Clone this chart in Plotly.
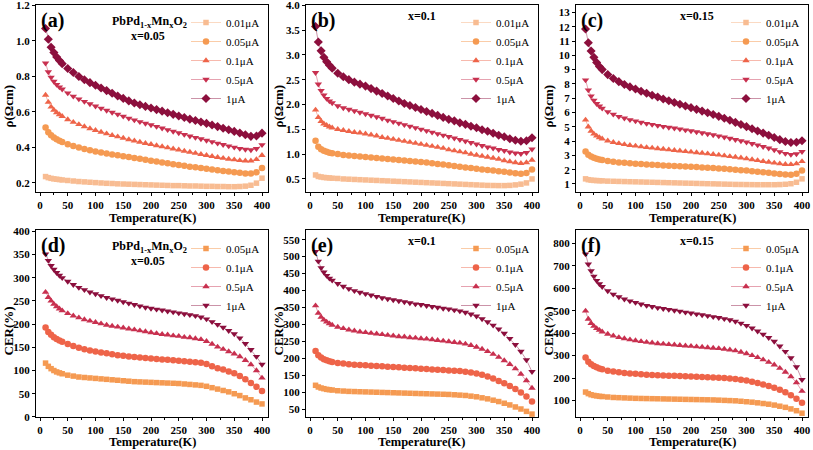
import plotly.graph_objects as go

# ---------------- data ----------------
T = [10, 15, 20, 25, 30, 35, 40, 50, 60, 70, 80, 90, 100, 110, 120, 130, 140, 150, 160, 170,
     180, 190, 200, 210, 220, 230, 240, 250, 260, 270, 280, 290, 300, 310, 320, 330, 340, 350,
     360, 370, 380, 390, 400]

# (a) x=0.05 resistivity
a_001 = [0.235, 0.229, 0.225, 0.222, 0.22, 0.218, 0.216, 0.213, 0.21, 0.207, 0.205, 0.203, 0.201, 0.199, 0.197, 0.196, 0.194, 0.193, 0.192, 0.191,
         0.19, 0.189, 0.188, 0.187, 0.186, 0.185, 0.184, 0.184, 0.183, 0.182, 0.182, 0.181, 0.18, 0.18, 0.179, 0.179, 0.178, 0.178,
         0.179, 0.181, 0.186, 0.198, 0.226]
a_005 = [0.512, 0.485, 0.468, 0.455, 0.445, 0.437, 0.43, 0.418, 0.408, 0.399, 0.391, 0.384, 0.377, 0.371, 0.365, 0.36, 0.355, 0.35, 0.345, 0.34,
         0.335, 0.33, 0.325, 0.32, 0.315, 0.31, 0.305, 0.3, 0.296, 0.291, 0.287, 0.283, 0.279, 0.275, 0.271, 0.267, 0.263, 0.259,
         0.256, 0.253, 0.252, 0.259, 0.284]
a_01 = [0.695, 0.655, 0.628, 0.61, 0.596, 0.585, 0.575, 0.557, 0.542, 0.529, 0.517, 0.506, 0.496, 0.486, 0.477, 0.468, 0.46, 0.452, 0.444, 0.437,
        0.43, 0.423, 0.417, 0.41, 0.404, 0.398, 0.392, 0.386, 0.379, 0.373, 0.367, 0.361, 0.355, 0.349, 0.344, 0.339, 0.334, 0.33,
        0.326, 0.324, 0.324, 0.332, 0.355]
a_05 = [0.875, 0.825, 0.795, 0.772, 0.754, 0.74, 0.728, 0.706, 0.688, 0.672, 0.658, 0.645, 0.632, 0.62, 0.608, 0.597, 0.586, 0.575, 0.564, 0.554,
        0.544, 0.535, 0.526, 0.517, 0.508, 0.499, 0.49, 0.481, 0.472, 0.463, 0.455, 0.447, 0.439, 0.431, 0.423, 0.415, 0.407, 0.4,
        0.393, 0.388, 0.385, 0.392, 0.414]
a_1 = [1.07, 1.01, 0.965, 0.935, 0.91, 0.89, 0.872, 0.845, 0.822, 0.8, 0.781, 0.765, 0.75, 0.735, 0.72, 0.705, 0.69, 0.676, 0.662, 0.65,
       0.64, 0.631, 0.622, 0.613, 0.604, 0.595, 0.586, 0.577, 0.568, 0.559, 0.551, 0.543, 0.535, 0.526, 0.517, 0.508, 0.499, 0.49,
       0.481, 0.471, 0.462, 0.464, 0.48]

# (b) x=0.1 resistivity
b_001 = [0.58, 0.55, 0.54, 0.53, 0.525, 0.52, 0.515, 0.51, 0.5, 0.495, 0.49, 0.485, 0.48, 0.475, 0.47, 0.465, 0.46, 0.455, 0.45, 0.445,
         0.44, 0.435, 0.43, 0.425, 0.42, 0.415, 0.41, 0.405, 0.4, 0.395, 0.39, 0.385, 0.38, 0.375, 0.37, 0.368, 0.366, 0.366,
         0.37, 0.38, 0.395, 0.42, 0.5]
b_005 = [1.27, 1.15, 1.1, 1.07, 1.05, 1.03, 1.02, 1.0, 0.98, 0.97, 0.96, 0.95, 0.94, 0.93, 0.92, 0.91, 0.9, 0.89, 0.88, 0.87,
         0.86, 0.85, 0.84, 0.83, 0.815, 0.8, 0.79, 0.775, 0.76, 0.745, 0.73, 0.72, 0.705, 0.69, 0.68, 0.67, 0.655, 0.645,
         0.63, 0.615, 0.605, 0.62, 0.69]
b_01 = [1.89, 1.74, 1.66, 1.61, 1.58, 1.55, 1.53, 1.5, 1.48, 1.46, 1.44, 1.43, 1.41, 1.39, 1.37, 1.34, 1.32, 1.3, 1.28, 1.26,
        1.24, 1.22, 1.2, 1.18, 1.16, 1.14, 1.12, 1.09, 1.07, 1.05, 1.03, 1.0, 0.98, 0.96, 0.94, 0.92, 0.9, 0.87,
        0.85, 0.83, 0.815, 0.83, 0.88]
b_05 = [2.64, 2.41, 2.28, 2.19, 2.12, 2.07, 2.03, 1.97, 1.93, 1.9, 1.87, 1.84, 1.81, 1.78, 1.75, 1.72, 1.68, 1.65, 1.62, 1.59,
        1.56, 1.53, 1.5, 1.47, 1.44, 1.41, 1.38, 1.35, 1.32, 1.29, 1.26, 1.23, 1.2, 1.17, 1.14, 1.12, 1.09, 1.07,
        1.04, 1.02, 1.01, 1.03, 1.1]
b_1 = [3.57, 3.26, 3.08, 2.95, 2.86, 2.79, 2.73, 2.63, 2.56, 2.5, 2.45, 2.41, 2.37, 2.32, 2.27, 2.22, 2.17, 2.12, 2.07, 2.02,
       1.98, 1.94, 1.9, 1.86, 1.82, 1.78, 1.74, 1.7, 1.67, 1.63, 1.6, 1.56, 1.53, 1.49, 1.46, 1.42, 1.38, 1.35,
       1.31, 1.28, 1.26, 1.27, 1.33]

# (c) x=0.15 resistivity
c_001 = [1.36, 1.3, 1.27, 1.25, 1.24, 1.23, 1.22, 1.2, 1.19, 1.18, 1.17, 1.16, 1.15, 1.14, 1.13, 1.12, 1.11, 1.1, 1.09, 1.08,
         1.07, 1.06, 1.05, 1.04, 1.03, 1.02, 1.01, 1.0, 0.99, 0.98, 0.97, 0.965, 0.96, 0.955, 0.95, 0.95, 0.95, 0.95,
         0.96, 0.98, 1.02, 1.12, 1.36]
c_005 = [3.28, 3.05, 2.92, 2.83, 2.76, 2.71, 2.67, 2.6, 2.55, 2.51, 2.48, 2.45, 2.42, 2.39, 2.37, 2.34, 2.32, 2.3, 2.28, 2.26,
         2.24, 2.22, 2.2, 2.18, 2.16, 2.14, 2.12, 2.09, 2.06, 2.03, 2.0, 1.97, 1.94, 1.9, 1.86, 1.82, 1.78, 1.74,
         1.7, 1.66, 1.65, 1.72, 1.95]
c_01 = [5.48, 5.0, 4.7, 4.5, 4.36, 4.25, 4.16, 4.02, 3.92, 3.84, 3.77, 3.71, 3.66, 3.61, 3.56, 3.52, 3.48, 3.44, 3.4, 3.36,
        3.32, 3.28, 3.24, 3.2, 3.16, 3.12, 3.08, 3.03, 2.98, 2.93, 2.88, 2.83, 2.77, 2.71, 2.65, 2.59, 2.53, 2.47,
        2.42, 2.38, 2.37, 2.42, 2.58]
c_05 = [8.27, 7.57, 7.15, 6.85, 6.62, 6.44, 6.29, 6.05, 5.87, 5.72, 5.6, 5.49, 5.4, 5.31, 5.23, 5.16, 5.09, 5.02, 4.96, 4.9,
        4.84, 4.77, 4.71, 4.64, 4.57, 4.5, 4.43, 4.35, 4.27, 4.19, 4.1, 4.01, 3.92, 3.82, 3.72, 3.61, 3.5, 3.38,
        3.25, 3.13, 3.06, 3.1, 3.26]
c_1 = [11.84, 10.88, 10.3, 9.86, 9.5, 9.22, 9.0, 8.65, 8.38, 8.16, 7.96, 7.79, 7.64, 7.49, 7.35, 7.21, 7.08, 6.95, 6.82, 6.7,
       6.58, 6.46, 6.34, 6.22, 6.1, 5.98, 5.86, 5.73, 5.6, 5.46, 5.31, 5.16, 5.01, 4.86, 4.71, 4.56, 4.41, 4.25,
       4.1, 3.97, 3.9, 3.92, 4.02]

# (d) x=0.05 CER
d_005 = [116, 109, 104, 100, 97, 95, 93, 90, 88, 86, 85, 84, 83, 82, 81, 80, 79, 78, 77, 76,
         75.5, 75, 74.5, 74, 73.5, 73, 72.5, 72, 71, 70, 69, 68, 66, 63, 60, 57, 54, 50,
         46, 41, 37, 32, 28]
d_01 = [193, 183, 177, 172, 168, 165, 162, 157, 153, 149, 146, 143, 141, 139, 137, 135, 133, 132, 130, 129,
        128, 127, 126, 125, 124, 123, 122, 121, 120, 119, 118, 117, 114, 109, 105, 102, 98, 94,
        88, 81, 73, 65, 56]
d_05 = [269, 258, 250, 243, 238, 233, 229, 223, 218, 214, 210, 207, 204, 201, 198, 196, 194, 192, 190, 188,
        186, 184, 182, 180, 178, 177, 175, 174, 172, 171, 169, 167, 163, 157, 151, 146, 141, 136,
        130, 122, 113, 100, 84]
d_1 = [351, 337, 326, 318, 311, 305, 300, 292, 285, 279, 274, 269, 265, 261, 257, 254, 251, 248, 245, 242,
       239, 236, 234, 232, 230, 228, 226, 224, 222, 220, 218, 215, 211, 205, 199, 193, 186, 179,
       170, 158, 145, 130, 113]

# (e) x=0.1 CER
e_005 = [120, 115, 112, 110, 108, 107, 106, 104, 103, 102, 101.5, 101, 100.5, 100, 99.5, 99, 98.5, 98, 97.5, 97,
         96.5, 96, 95.5, 95, 94.5, 94, 93.5, 93, 92, 91, 90, 88, 86, 83, 80, 76, 72, 67,
         62, 56, 50, 43, 35]
e_01 = [221, 209, 202, 197, 194, 191, 189, 186, 184, 182, 181, 180, 179, 178, 177, 176, 175, 174, 173, 172,
        171, 170, 169, 168, 167, 166, 165, 164, 163, 162, 160, 158, 155, 151, 146, 140, 133, 126,
        118, 109, 99, 87, 72]
e_05 = [355, 333, 321, 313, 307, 302, 298, 292, 288, 284, 281, 278, 276, 274, 272, 270, 268, 266, 264, 263,
        261, 260, 258, 257, 255, 253, 251, 249, 247, 245, 242, 238, 233, 227, 220, 212, 203, 193,
        182, 169, 153, 134, 112]
e_1 = [515, 486, 467, 454, 444, 436, 430, 420, 412, 405, 399, 394, 390, 386, 382, 378, 375, 372, 369, 366,
       363, 360, 358, 355, 352, 350, 347, 345, 342, 339, 335, 330, 324, 316, 307, 297, 286, 273,
       258, 240, 220, 195, 160]

# (f) x=0.15 CER
f_005 = [138, 131, 126, 123, 121, 119, 118, 116, 114, 113, 112, 111, 110, 109.5, 109, 108.5, 108, 107.5, 107, 106.5,
         106, 105.5, 105, 104.5, 104, 103.5, 103, 102, 101, 100, 99, 97, 95, 93, 90, 87, 84, 80,
         75, 70, 63, 55, 44]
f_01 = [292, 273, 262, 254, 248, 243, 239, 233, 229, 226, 223, 221, 219, 217, 215, 214, 213, 212, 211, 210,
        209, 208, 207, 206, 205, 204, 203, 202, 200, 198, 196, 193, 189, 184, 178, 172, 165, 157,
        148, 137, 124, 108, 90]
f_05 = [499, 463, 444, 431, 421, 413, 406, 396, 388, 381, 376, 371, 367, 363, 360, 357, 354, 352, 350, 348,
        346, 344, 342, 340, 338, 336, 334, 332, 329, 326, 322, 316, 309, 301, 292, 282, 271, 259,
        244, 227, 207, 180, 142]
f_1 = [752, 707, 677, 653, 634, 619, 607, 588, 573, 561, 551, 543, 536, 529, 523, 518, 513, 509, 505, 501,
       497, 493, 489, 485, 481, 477, 473, 469, 464, 459, 452, 444, 434, 422, 409, 395, 380, 363,
       342, 318, 290, 250, 193]

labels_top = ["0.01\u03bcA", "0.05\u03bcA", "0.1\u03bcA", "0.5\u03bcA", "1\u03bcA"]
labels_bot = ["0.05\u03bcA", "0.1\u03bcA", "0.5\u03bcA", "1\u03bcA"]
panel_letters = ["(a)", "(b)", "(c)", "(d)", "(e)", "(f)"]
x_labels = ["x=0.05", "x=0.1", "x=0.15", "x=0.05", "x=0.1", "x=0.15"]
compound = "PbPd<sub>1-x</sub>Mn<sub>x</sub>O<sub>2</sub>"
x_title = "Temperature(K)"
y_titles = ["\u03c1(\u03a9cm)"] * 3 + ["CER(%)"] * 3
x_ticks = [0, 50, 100, 150, 200, 250, 300, 350, 400]
y_ticks = [
    [0.2, 0.4, 0.6, 0.8, 1.0, 1.2],
    [0.5, 1.0, 1.5, 2.0, 2.5, 3.0, 3.5, 4.0],
    [1, 2, 3, 4, 5, 6, 7, 8, 9, 10, 11, 12, 13],
    [0, 50, 100, 150, 200, 250, 300, 350, 400],
    [50, 100, 150, 200, 250, 300, 350, 400, 450, 500, 550],
    [100, 200, 300, 400, 500, 600, 700, 800],
]

# ---------------- style ----------------
W, H = 813, 450
FONT = "Liberation Serif"
col = {"0.01": "#F8BC92", "0.05": "#F59A52", "0.1": "#EE6449", "0.5": "#C8304F", "1": "#8C0F3D"}
lcol = {"0.01": "rgba(248,188,146,0.55)", "0.05": "rgba(245,154,82,0.5)", "0.1": "rgba(238,100,73,0.45)",
        "0.5": "rgba(200,48,79,0.45)", "1": "rgba(140,15,61,0.45)"}

frames = [(36, 268, 5, 192), (306, 538, 5, 192), (576, 808, 5, 192),
          (36, 268, 230, 417), (306, 538, 230, 417), (576, 808, 230, 417)]
y_ranges = [[0.148, 1.203], [0.237, 4.004], [0.44, 13.52], [-0.2, 403], [26.4, 578.5], [27, 859]]
y_fmt = [".1f", ".1f", "d", "d", "d", "d"]

series = [
    [("0.01", a_001, "square"), ("0.05", a_005, "circle"), ("0.1", a_01, "triangle-up"), ("0.5", a_05, "triangle-down"), ("1", a_1, "diamond")],
    [("0.01", b_001, "square"), ("0.05", b_005, "circle"), ("0.1", b_01, "triangle-up"), ("0.5", b_05, "triangle-down"), ("1", b_1, "diamond")],
    [("0.01", c_001, "square"), ("0.05", c_005, "circle"), ("0.1", c_01, "triangle-up"), ("0.5", c_05, "triangle-down"), ("1", c_1, "diamond")],
    [("0.05", d_005, "square"), ("0.1", d_01, "circle"), ("0.5", d_05, "triangle-up"), ("1", d_1, "triangle-down")],
    [("0.05", e_005, "square"), ("0.1", e_01, "circle"), ("0.5", e_05, "triangle-up"), ("1", e_1, "triangle-down")],
    [("0.05", f_005, "square"), ("0.1", f_01, "circle"), ("0.5", f_05, "triangle-up"), ("1", f_1, "triangle-down")],
]
msize = {"square": 5.5, "circle": 6.5, "triangle-up": 6.5, "triangle-down": 6.5, "diamond": 7}

fig = go.Figure()
layout = dict(width=W, height=H, margin=dict(l=0, r=0, t=0, b=0, autoexpand=False),
              paper_bgcolor="white", plot_bgcolor="white", annotations=[])

def ann(text, x, y, size, bold=True, xanchor="center", yanchor="middle", angle=0):
    f = dict(family=FONT, size=size, color="black")
    if bold:
        f["weight"] = "bold"
    return dict(text=text, x=x / W, y=1 - y / H, xref="paper", yref="paper", xanchor=xanchor,
                yanchor=yanchor, showarrow=False, textangle=angle, font=f)

for i in range(6):
    n = i + 1
    xa = "x" if n == 1 else f"x{n}"
    ya = "y" if n == 1 else f"y{n}"
    lg = "legend" if n == 1 else f"legend{n}"
    labs = labels_top if i < 3 else labels_bot
    for (key, vals, sym), lab in zip(series[i], labs):
        fig.add_trace(go.Scatter(
            x=T, y=vals, mode="lines+markers", name=lab,
            line=dict(color=lcol[key], width=1),
            marker=dict(symbol=sym, size=msize[sym], color=col[key], line=dict(width=0)),
            xaxis=xa, yaxis=ya, legend=lg, showlegend=True))

    x0, x1, y0, y1 = frames[i]
    axis_common = dict(showline=True, mirror=True, linecolor="black", linewidth=1.3,
                       ticks="outside", ticklen=3, tickwidth=1.2, tickcolor="black",
                       showgrid=False, zeroline=False, automargin=False, ticklabeloverflow="allow",
                       tickfont=dict(family=FONT, size=11, color="black", weight="bold"))
    layout["xaxis" if n == 1 else f"xaxis{n}"] = dict(
        axis_common, domain=[x0 / W, x1 / W], range=[-7.2, 410.8], tickvals=x_ticks,
        anchor=ya, minor=dict(ticks="outside", ticklen=2, tickwidth=1, tickcolor="black", dtick=25))
    layout["yaxis" if n == 1 else f"yaxis{n}"] = dict(
        axis_common, domain=[1 - y1 / H, 1 - y0 / H], range=y_ranges[i], tickvals=y_ticks[i],
        tickformat=y_fmt[i], anchor=xa)

    # axis titles
    layout["annotations"].append(ann(x_title, (x0 + x1) / 2, y1 + (26 if i < 3 else 25), 12.5))
    layout["annotations"].append(ann(y_titles[i], x0 - 28, (y0 + y1) / 2 + 8, 13, angle=-90))

    lx = {0: 186, 1: 456, 2: 726}[i % 3]
    ly = 8 if i < 3 else 234
    layout[lg] = dict(x=lx / W, y=1 - ly / H, xanchor="left", yanchor="top",
                      bgcolor="rgba(0,0,0,0)", borderwidth=0,
                      font=dict(family=FONT, size=11, color="black"), tracegroupgap=0)

    layout["annotations"].append(ann(panel_letters[i], x0 + 3, y0 + 2, 20, xanchor="left", yanchor="top"))
    if i % 3 == 0:
        layout["annotations"].append(ann(compound, 149, y0 + 17, 12))
        layout["annotations"].append(ann(x_labels[i], 148, y0 + 31, 12))
    else:
        cx = 422 if i % 3 == 1 else 697
        layout["annotations"].append(ann(x_labels[i], cx, y0 + 11, 12))

fig.update_layout(**layout)
# remove the browser's default 8px page margin so the figure sits at the window origin
fig.write_html("out.html", config={"displayModeBar": False},
               post_script="document.body.style.margin='0';")
